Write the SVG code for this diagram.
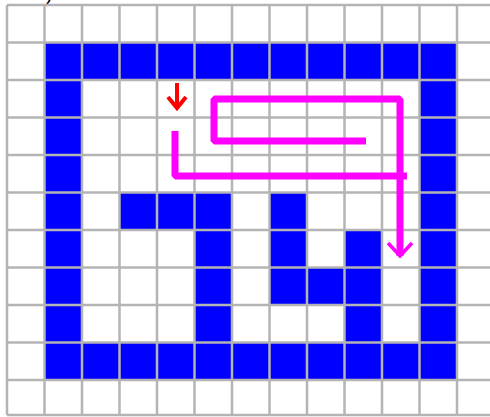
<svg xmlns="http://www.w3.org/2000/svg" width="490" height="417" viewBox="0 0 490 417">
  <style>
    .wall { fill: #0000ff; }
    .grid line { stroke: #b4b4b4; stroke-width: 2.5; }
    .path { fill: none; stroke: #ff00ff; stroke-width: 7; stroke-linejoin: bevel; stroke-linecap: butt; }
    .start { fill: none; stroke: #ff0000; stroke-width: 4; }
  </style>
  <rect x="0" y="0" width="490" height="417" fill="#ffffff"/>
  <text x="46" y="0" font-family="Liberation Sans, Arial, sans-serif" font-size="20" fill="#000000">)</text>
  <g id="walls">
    <rect class="wall" x="44.5" y="42.5" width="412.5" height="37.5"/>
    <rect class="wall" x="44.5" y="342.5" width="412.5" height="37.5"/>
    <rect class="wall" x="44.5" y="42.5" width="37.5" height="337.5"/>
    <rect class="wall" x="419.5" y="42.5" width="37.5" height="337.5"/>
    <rect class="wall" x="119.5" y="192.5" width="112.5" height="37.5"/>
    <rect class="wall" x="194.5" y="192.5" width="37.5" height="150"/>
    <rect class="wall" x="269.5" y="192.5" width="37.5" height="112.5"/>
    <rect class="wall" x="307" y="267.5" width="37.5" height="37.5"/>
    <rect class="wall" x="344.5" y="230" width="37.5" height="112.5"/>
  </g>
  <g id="grid" class="grid">
    <line x1="7" y1="5" x2="7" y2="415"/>
    <line x1="44.5" y1="5" x2="44.5" y2="415"/>
    <line x1="82" y1="5" x2="82" y2="415"/>
    <line x1="119.5" y1="5" x2="119.5" y2="415"/>
    <line x1="157" y1="5" x2="157" y2="415"/>
    <line x1="194.5" y1="5" x2="194.5" y2="415"/>
    <line x1="232" y1="5" x2="232" y2="415"/>
    <line x1="269.5" y1="5" x2="269.5" y2="415"/>
    <line x1="307" y1="5" x2="307" y2="415"/>
    <line x1="344.5" y1="5" x2="344.5" y2="415"/>
    <line x1="382" y1="5" x2="382" y2="415"/>
    <line x1="419.5" y1="5" x2="419.5" y2="415"/>
    <line x1="457" y1="5" x2="457" y2="415"/>
    <line x1="7" y1="5" x2="490" y2="5"/>
    <line x1="7" y1="42.5" x2="490" y2="42.5"/>
    <line x1="7" y1="80" x2="490" y2="80"/>
    <line x1="7" y1="117.5" x2="490" y2="117.5"/>
    <line x1="7" y1="155" x2="490" y2="155"/>
    <line x1="7" y1="192.5" x2="490" y2="192.5"/>
    <line x1="7" y1="230" x2="490" y2="230"/>
    <line x1="7" y1="267.5" x2="490" y2="267.5"/>
    <line x1="7" y1="305" x2="490" y2="305"/>
    <line x1="7" y1="342.5" x2="490" y2="342.5"/>
    <line x1="7" y1="380" x2="490" y2="380"/>
    <line x1="7" y1="415" x2="490" y2="415"/>
  </g>
  <g id="start-arrow">
    <line class="start" x1="177" y1="83" x2="177" y2="107"/>
    <polyline class="start" points="168,97 177,108 186,97"/>
  </g>
  <g id="connectors">
    <path class="path" d="M175,131 L175,176 L407,176"/>
    <path class="path" d="M366,141 L214,141 L214,99 L400,99 L400,256"/>
    <polyline fill="none" stroke="#ff00ff" stroke-width="3.5" points="388,243 400,256 412,243"/>
  </g>
</svg>
